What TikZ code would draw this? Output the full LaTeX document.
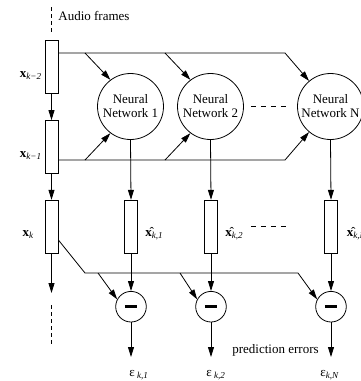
\documentclass[tikz,border=0pt]{standalone}
\usepackage{fontspec}
\setmainfont{Liberation Serif}
\usetikzlibrary{arrows.meta}
\begin{document}
\begin{tikzpicture}[x=1pt,y=-1pt,line width=0.8pt,
 font=\fontsize{13}{14}\selectfont,
 ar/.style={-{Triangle[length=10pt,width=6pt]}},
 frame/.style={draw,rectangle,minimum width=13pt,minimum height=53pt,inner sep=0pt},
 nn/.style={draw,circle,minimum size=66pt,inner sep=0pt,align=center},
 minus/.style={draw,circle,minimum size=30.6pt,inner sep=0pt},
 lbl/.style={inner sep=0pt},
 dsh/.style={dash pattern=on 5pt off 5pt},
 vdsh/.style={dash pattern=on 4pt off 3pt}]
\useasboundingbox (0,0) rectangle (360,381);
% audio frames
\node[frame] (b1) at (51.5,66.7) {};
\node[frame] (b2) at (51.5,147) {};
\node[frame] (b3) at (51.5,226.7) {};
\coordinate (a0) at (51.5,7);
\coordinate (a1) at (51.5,33);
\draw[vdsh] (a0) -- (a1);
\node[lbl,anchor=base west] (al) at (58,20) {Audio frames};
\draw[ar] (b1) -- (b2);
\draw[ar] (b2) -- (b3);
\coordinate (e3) at (51.5,293);
\draw[ar] (b3) -- (e3);
\coordinate (d0) at (51.5,305);
\coordinate (d1) at (51.5,345);
\draw[vdsh] (d0) -- (d1);
\node[lbl,anchor=base east] (lx2) at (42,77) {\textbf{x}\textsubscript{\itshape k−2}};
\node[lbl,anchor=base east] (lx1) at (42,157) {\textbf{x}\textsubscript{\itshape k−1}};
\node[lbl,anchor=base east] (lx0) at (34,236.7) {\textbf{x}\textsubscript{\itshape k}};
% networks
\node[nn] (n1) at (130.5,106.5) {Neural\\Network 1};
\node[nn] (n2) at (210.5,106.5) {Neural\\Network 2};
\node[nn] (nN) at (330.5,106.5) {Neural\\Network N};
\draw[dsh,shorten >=7.5pt,shorten <=7.5pt] (n2) -- (nN);
% inputs to networks
\coordinate (t1) at (85,53);
\coordinate (t2) at (165,53);
\coordinate (t3) at (285,53);
\coordinate (u1) at (85,160);
\coordinate (u2) at (165,160);
\coordinate (u3) at (285,160);
\draw[ar] (b1.east |- t1) -- (t3) -- (nN.130);
\draw[ar] (t1) -- (n1.127);
\draw[ar] (t2) -- (n2.127);
\draw[ar] (b2.east |- u1) -- (u3) -- (nN.230);
\draw[ar] (u1) -- (n1.233);
\draw[ar] (u2) -- (n2.233);
% predictions
\node[frame] (h1) at (131,226.7) {};
\node[frame] (h2) at (211,226.7) {};
\node[frame] (hN) at (331,226.7) {};
\draw[ar] (n1.south) -- (h1.north);
\draw[ar] (n2.south) -- (h2.north);
\draw[ar] (nN.south) -- (hN.north);
\node[lbl,anchor=base west] (lh1) at (145,236.7) {\^{\textbf{x}}\textsubscript{\itshape k,1}};
\node[lbl,anchor=base west] (lh2) at (225,236.7) {\^{\textbf{x}}\textsubscript{\itshape k,2}};
\node[lbl,anchor=base west] (lhN) at (346.5,236.7) {\^{\textbf{x}}\textsubscript{\itshape k,N}};
\coordinate (hd0) at (251,226);
\coordinate (hd1) at (289,226);
\draw[dsh] (hd0) -- (hd1);
% subtractors
\node[minus] (m1) at (131,306.7) {\rule{12.5pt}{3.3pt}};
\node[minus] (m2) at (211,306.7) {\rule{12.5pt}{3.3pt}};
\node[minus] (mN) at (331,306.7) {\rule{12.5pt}{3.3pt}};
\draw[ar] (h1) -- (m1);
\draw[ar] (h2) -- (m2);
\draw[ar] (hN) -- (mN);
\coordinate (c0) at (58,240);
\coordinate (c1) at (85,273);
\coordinate (c2) at (298,273);
\coordinate (v1) at (98,273);
\coordinate (v2) at (180,273);
\draw[ar] (b3.east |- c0) -- (c1) -- (c2) -- (mN.152);
\draw[ar] (v1) -- (m1.152);
\draw[ar] (v2) -- (m2.152);
% outputs
\coordinate (o1) at (131,357);
\coordinate (o2) at (211,357);
\coordinate (oN) at (331,357);
\draw[ar] (m1) -- (o1);
\draw[ar] (m2) -- (o2);
\draw[ar] (mN) -- (oN);
\node[lbl,anchor=base west] (le1) at (129,376) {ε\,\textsubscript{\itshape k,1}};
\node[lbl,anchor=base west] (le2) at (206,376) {ε\,\textsubscript{\itshape k,2}};
\node[lbl,anchor=base west] (leN) at (320,376) {ε\textsubscript{\itshape k,N}};
\node[lbl,anchor=base] (pe) at (275.5,353) {prediction errors};
\end{tikzpicture}
\end{document}
